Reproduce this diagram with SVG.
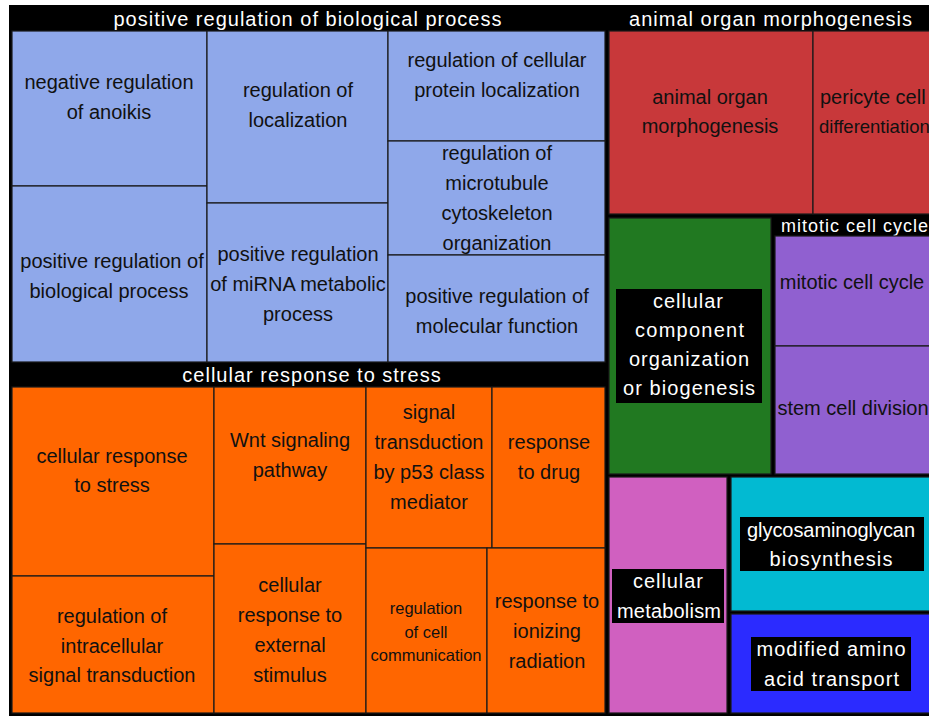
<svg xmlns="http://www.w3.org/2000/svg" width="929" height="716" viewBox="0 0 929 716">
<style>
.c{stroke:#1a1a1a;stroke-width:1.2}
.t{font-family:"Liberation Sans",Arial,sans-serif;font-size:20px;fill:#111;text-anchor:middle}
.h{font-family:"Liberation Sans",Arial,sans-serif;font-size:20px;fill:#fff;text-anchor:middle;letter-spacing:1px}
.w{font-family:"Liberation Sans",Arial,sans-serif;font-size:20px;fill:#fff;text-anchor:middle}
.blue{fill:#8fa8ea}
.orange{fill:#ff6600}
.red{fill:#c8383a}
.green{fill:#217921}
.purple{fill:#9060d0}
.pink{fill:#d060c0}
.cyan{fill:#02bad2}
.dblue{fill:#2b2bff}
</style>
<rect x="0" y="0" width="929" height="716" fill="#fff"/>
<rect x="9" y="5" width="920" height="711" fill="#000"/>

<g id="grp-positive-regulation">
<text class="h" x="308" y="26">positive regulation of biological process</text>
</g>
<g id="negative-regulation-of-anoikis"><rect class="c blue" x="12" y="31" width="195" height="155"/>
<text class="t" x="109" y="89">negative regulation</text><text class="t" x="109" y="119">of anoikis</text></g>
<g id="positive-regulation-of-biological-process"><rect class="c blue" x="12" y="186" width="195" height="176"/>
<text class="t" x="112" y="268">positive regulation of</text><text class="t" x="109" y="298">biological process</text></g>
<g id="regulation-of-localization"><rect class="c blue" x="207" y="31" width="181" height="172"/>
<text class="t" x="298" y="97">regulation of</text><text class="t" x="298" y="127">localization</text></g>
<g id="positive-regulation-of-mirna"><rect class="c blue" x="207" y="203" width="181" height="159"/>
<text class="t" x="298" y="261">positive regulation</text><text class="t" x="298" y="291">of miRNA metabolic</text><text class="t" x="298" y="321">process</text></g>
<g id="regulation-of-cellular-protein-localization"><rect class="c blue" x="388" y="31" width="217" height="110"/>
<text class="t" x="497" y="67">regulation of cellular</text><text class="t" x="497" y="97">protein localization</text></g>
<g id="regulation-of-microtubule"><rect class="c blue" x="388" y="141" width="217" height="114"/>
<text class="t" x="497" y="160">regulation of</text><text class="t" x="497" y="190">microtubule</text><text class="t" x="497" y="220">cytoskeleton</text><text class="t" x="497" y="250">organization</text></g>
<g id="positive-regulation-of-molecular-function"><rect class="c blue" x="388" y="255" width="217" height="107"/>
<text class="t" x="497" y="303">positive regulation of</text><text class="t" x="497" y="333">molecular function</text></g>

<g id="grp-cellular-response-to-stress">
<text class="h" x="312" y="382">cellular response to stress</text>
</g>
<g id="cellular-response-to-stress"><rect class="c orange" x="12" y="387" width="202" height="189"/>
<text class="t" x="112" y="463">cellular response</text><text class="t" x="112" y="492">to stress</text></g>
<g id="regulation-of-intracellular-signal-transduction"><rect class="c orange" x="12" y="576" width="202" height="137"/>
<text class="t" x="112" y="623">regulation of</text><text class="t" x="112" y="653">intracellular</text><text class="t" x="112" y="682">signal transduction</text></g>
<g id="wnt-signaling-pathway"><rect class="c orange" x="214" y="387" width="152" height="157"/>
<text class="t" x="290" y="447">Wnt signaling</text><text class="t" x="290" y="477">pathway</text></g>
<g id="cellular-response-to-external-stimulus"><rect class="c orange" x="214" y="544" width="152" height="169"/>
<text class="t" x="290" y="592">cellular</text><text class="t" x="290" y="622">response to</text><text class="t" x="290" y="652">external</text><text class="t" x="290" y="682">stimulus</text></g>
<g id="signal-transduction-p53"><rect class="c orange" x="366" y="387" width="126" height="161"/>
<text class="t" x="429" y="419">signal</text><text class="t" x="429" y="449">transduction</text><text class="t" x="429" y="479">by p53 class</text><text class="t" x="429" y="509">mediator</text></g>
<g id="response-to-drug"><rect class="c orange" x="492" y="387" width="113" height="161"/>
<text class="t" x="549" y="449">response</text><text class="t" x="549" y="479">to drug</text></g>
<g id="regulation-of-cell-communication"><rect class="c orange" x="366" y="548" width="121" height="165"/>
<text class="t" x="426" y="614" style="font-size:16.5px">regulation</text><text class="t" x="426" y="638" style="font-size:16.5px">of cell</text><text class="t" x="426" y="661" style="font-size:16.5px">communication</text></g>
<g id="response-to-ionizing-radiation"><rect class="c orange" x="487" y="548" width="118" height="165"/>
<text class="t" x="547" y="608">response to</text><text class="t" x="547" y="638">ionizing</text><text class="t" x="547" y="668">radiation</text></g>

<g id="grp-animal-organ-morphogenesis">
<text class="h" x="771" y="26">animal organ morphogenesis</text>
</g>
<g id="animal-organ-morphogenesis"><rect class="c red" x="609" y="31" width="204" height="183"/>
<text class="t" x="710" y="104">animal organ</text><text class="t" x="710" y="133">morphogenesis</text></g>
<g id="pericyte-cell-differentiation"><rect class="c red" x="813" y="31" width="130" height="183"/>
<text class="t" x="820" y="104" style="text-anchor:start">pericyte cell</text><text class="t" x="819" y="133" style="text-anchor:start;font-size:18.5px">differentiation</text></g>

<g id="cellular-component-organization"><rect class="c green" x="609" y="218" width="162" height="256"/>
<rect x="616" y="289" width="146" height="114" fill="#000"/>
<text class="w" x="688" y="308" textLength="70" lengthAdjust="spacing">cellular</text>
<text class="w" x="689.5" y="337" textLength="109" lengthAdjust="spacing">component</text>
<text class="w" x="689" y="366" textLength="120" lengthAdjust="spacing">organization</text>
<text class="w" x="689" y="395" textLength="132" lengthAdjust="spacing">or biogenesis</text></g>

<g id="grp-mitotic-cell-cycle">
<text class="h" x="855" y="232" style="font-size:18px">mitotic cell cycle</text>
</g>
<g id="mitotic-cell-cycle"><rect class="c purple" x="775" y="236" width="160" height="110"/>
<text class="t" x="852" y="289">mitotic cell cycle</text></g>
<g id="stem-cell-division"><rect class="c purple" x="775" y="346" width="160" height="128"/>
<text class="t" x="853" y="415">stem cell division</text></g>

<g id="cellular-metabolism"><rect class="c pink" x="609" y="477" width="118" height="236"/>
<rect x="612" y="569" width="112" height="54" fill="#000"/>
<text class="w" x="668" y="588" textLength="70" lengthAdjust="spacing">cellular</text>
<text class="w" x="669" y="618" textLength="104" lengthAdjust="spacing">metabolism</text></g>
<g id="glycosaminoglycan-biosynthesis"><rect class="c cyan" x="731" y="477" width="200" height="134"/>
<rect x="740" y="517" width="184" height="54" fill="#000"/>
<text class="w" x="831" y="537" textLength="168" lengthAdjust="spacing">glycosaminoglycan</text>
<text class="w" x="831" y="566" textLength="123" lengthAdjust="spacing">biosynthesis</text></g>
<g id="modified-amino-acid-transport"><rect class="c dblue" x="731" y="614" width="200" height="99"/>
<rect x="751" y="637" width="160" height="54" fill="#000"/>
<text class="w" x="831" y="656" textLength="149" lengthAdjust="spacing">modified amino</text>
<text class="w" x="831.5" y="686" textLength="135" lengthAdjust="spacing">acid transport</text></g>
</svg>
